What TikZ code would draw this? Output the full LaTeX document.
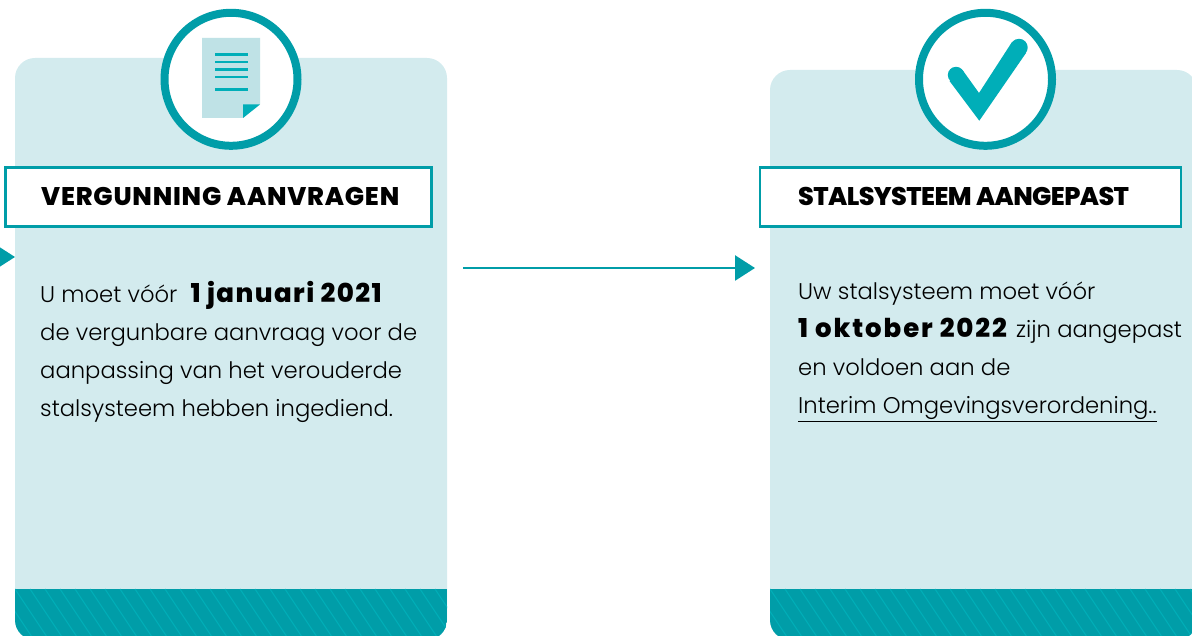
\documentclass[tikz,border=0pt]{standalone}
\usepackage{fontspec}
\setmainfont{Poppins Light}[BoldFont=Poppins ExtraBold]
\usetikzlibrary{arrows.meta}
\definecolor{cardfill}{HTML}{D3EBEE}
\definecolor{tealdark}{HTML}{009DA8}
\definecolor{teallight}{HTML}{00AEB8}
\definecolor{pagefill}{HTML}{BFE2E6}
\newcommand{\spacedbold}[3]{{\fontsize{#1}{38}\selectfont\bfseries\addfontfeature{LetterSpace=#2}#3}}
\tikzset{
  card/.style={fill=cardfill,rounded corners=20pt},
  iconring/.style={circle,draw=tealdark,line width=8pt,fill=white,minimum size=133pt,inner sep=0pt},
  titlebox/.style={draw=tealdark,line width=2.5pt,fill=white,minimum height=59pt,inner sep=0pt},
  titletext/.style={anchor=base west,inner sep=0pt},
  bodytext/.style={font=\fontsize{22.7}{38}\selectfont,anchor=north west,align=left,inner sep=0pt},
  flowarrow/.style={draw=tealdark,line width=2.5pt,-{Triangle[length=20pt,width=25pt]}}
}
\begin{document}
\begin{tikzpicture}[x=1pt,y=-1pt]
    \useasboundingbox (0,0) rectangle (1192,636);
    \clip (0,0) rectangle (1192,636);

    \fill[card] (15,58) rectangle (447,640);
    \begin{scope}
        \clip[rounded corners=20pt] (15,58) rectangle (447,640);
        \fill[tealdark] (15,589) rectangle (447,640);
        \foreach \x in {-15,0,...,450}
            \draw[teallight,line width=1pt] (\x,589) -- ++(36,54);
    \end{scope}

    \fill[card] (770,70) rectangle (1197,640);
    \begin{scope}
        \clip[rounded corners=20pt] (770,70) rectangle (1197,640);
        \fill[tealdark] (770,589) rectangle (1197,640);
        \foreach \x in {755,770,...,1200}
            \draw[teallight,line width=1pt] (\x,589) -- ++(36,54);
    \end{scope}

    \node (aanvraagicon) [iconring] at (231,79.3) {};
    \node (stalicon) [iconring] at (985.5,79.3) {};

    \fill[pagefill] (202,38) -- (260,38) -- (260,104) -- (243,118) -- (202,118) -- cycle;
    \fill[teallight] (243,104.5) -- (260,104.5) -- (243,118) -- cycle;
    \foreach \y in {54.5,62,69.5,77,89.5}
        \draw[teallight,line width=2.2pt] (215,\y) -- (248,\y);

    \fill[teallight] (979.3,120.7) -- (949.5,81) -- (962.5,70) -- (979,93) -- (1012,42) -- (1026,53) -- cycle;
    \fill[teallight] (956,75) circle (8.2);
    \fill[teallight] (1019,47.5) circle (8.7);

    \node (aanvraagtitle) [titlebox,minimum width=426pt] at (218.5,197) {};
    \node (staltitle) [titlebox,minimum width=421pt] at (970.5,197) {};
    \node (aanvraaglabel) [titletext] at (41,206) {\spacedbold{25.5}{3.1}{VERGUNNING AANVRAGEN}};
    \node (stallabel) [titletext] at (798,206) {\spacedbold{25.5}{-2.4}{STALSYSTEEM AANGEPAST}};

    \node (aanvraagbody) [bodytext] at (40,281.5) {U moet vóór \hspace{7pt}\spacedbold{26}{5.5}{1 januari 2021}\\de vergunbare aanvraag voor de\\aanpassing van het verouderde\\stalsysteem hebben ingediend.};
    \node (stalbody) [bodytext] at (798,281.5) {Uw stalsysteem moet vóór\\\spacedbold{26}{7.4}{1 oktober 2022}\hspace{3pt} zijn aangepast\\en voldoen aan de\\\underline{Interim Omgevingsverordening..}};

    \coordinate (instart) at (-20,257);
    \coordinate (inend) at (15,257);
    \coordinate (flowstart) at (463,268);
    \coordinate (flowend) at (755,268);
    \draw[flowarrow] (instart) -- (inend);
    \draw[flowarrow] (flowstart) -- (flowend);
\end{tikzpicture}
\end{document}
